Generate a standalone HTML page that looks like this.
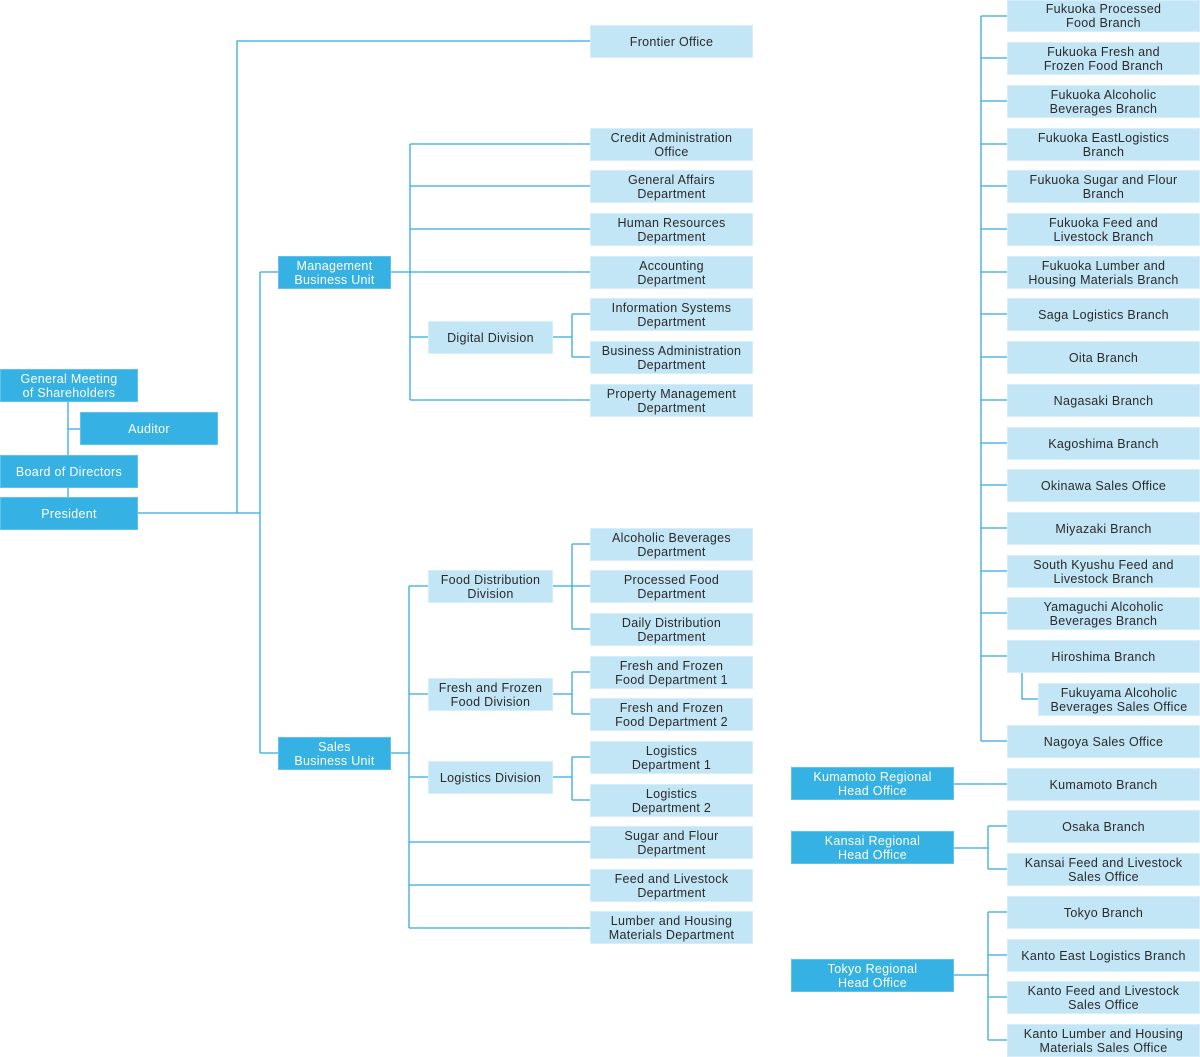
<!DOCTYPE html>
<html><head><meta charset="utf-8"><style>
body{margin:0;width:1200px;height:1056px;position:relative;background:#fff;font-family:"Liberation Sans",sans-serif;overflow:hidden}
.b{position:absolute;display:flex;align-items:center;justify-content:center;text-align:center;font-size:12.5px;line-height:14px;box-sizing:border-box;letter-spacing:0.3px}
.d{background:#35b1e3;color:#fff;border:1px solid #5fc2ea}
.l{background:#c3e6f6;color:#2a2a2a;border:1px solid #d6eefa}
svg{position:absolute;left:0;top:0}
</style></head><body>
<svg width="1200" height="1056" stroke="#35a9e0" stroke-width="1.3" fill="none">
<path d="M68 402V497M68 429H80M138 513H260M237 513V41H590M260 272V753M260 272H278M260 753H278"/>
<path d="M391 272H590M410 144V400M410 144H590M410 186H590M410 229H590M410 400H590M410 337H428M553 337H572M572 314V357M572 314H590M572 357H590"/>
<path d="M391 753H409M409 586V928M409 586H428M409 694H428M409 777H428M409 842H590M409 885H590M409 928H590"/>
<path d="M553 586H572M572 544V629M572 544H590M572 586H590M572 629H590"/>
<path d="M553 694H572M572 672V714M572 672H590M572 714H590"/>
<path d="M553 777H572M572 757V800M572 757H590M572 800H590"/>
<path d="M981 16V741M981 16H1007M981 58H1007M981 101H1007M981 144H1007M981 186H1007M981 229H1007M981 272H1007M981 314H1007M981 357H1007M981 400H1007M981 443H1007M981 485H1007M981 528H1007M981 571H1007M981 613H1007M981 656H1007M981 741H1007M1022 673V699H1038"/>
<path d="M954 784H1007M954 848H988M988 826V869M988 826H1007M988 869H1007M954 975H988M988 912V1040M988 912H1007M988 955H1007M988 997H1007M988 1040H1007"/>
</svg>
<div class="b d" style="left:0;top:369px;width:138px;height:33px">General Meeting<br>of Shareholders</div>
<div class="b d" style="left:80px;top:412px;width:138px;height:33px">Auditor</div>
<div class="b d" style="left:0;top:455px;width:138px;height:33px">Board of Directors</div>
<div class="b d" style="left:0;top:497px;width:138px;height:33px">President</div>
<div class="b d" style="left:278px;top:256px;width:113px;height:33px">Management<br>Business Unit</div>
<div class="b d" style="left:278px;top:737px;width:113px;height:33px">Sales<br>Business Unit</div>
<div class="b d" style="left:791px;top:767px;width:163px;height:33px">Kumamoto Regional<br>Head Office</div>
<div class="b d" style="left:791px;top:831px;width:163px;height:33px">Kansai Regional<br>Head Office</div>
<div class="b d" style="left:791px;top:959px;width:163px;height:33px">Tokyo Regional<br>Head Office</div>

<div class="b l" style="left:428px;top:321px;width:125px;height:33px">Digital Division</div>
<div class="b l" style="left:428px;top:570px;width:125px;height:33px">Food Distribution<br>Division</div>
<div class="b l" style="left:428px;top:678px;width:125px;height:33px">Fresh and Frozen<br>Food Division</div>
<div class="b l" style="left:428px;top:761px;width:125px;height:33px">Logistics Division</div>

<div class="b l" style="left:590px;top:25px;width:163px;height:33px">Frontier Office</div>
<div class="b l" style="left:590px;top:128px;width:163px;height:33px">Credit Administration<br>Office</div>
<div class="b l" style="left:590px;top:170px;width:163px;height:33px">General Affairs<br>Department</div>
<div class="b l" style="left:590px;top:213px;width:163px;height:33px">Human Resources<br>Department</div>
<div class="b l" style="left:590px;top:256px;width:163px;height:33px">Accounting<br>Department</div>
<div class="b l" style="left:590px;top:298px;width:163px;height:33px">Information Systems<br>Department</div>
<div class="b l" style="left:590px;top:341px;width:163px;height:33px">Business Administration<br>Department</div>
<div class="b l" style="left:590px;top:384px;width:163px;height:33px">Property Management<br>Department</div>
<div class="b l" style="left:590px;top:528px;width:163px;height:33px">Alcoholic Beverages<br>Department</div>
<div class="b l" style="left:590px;top:570px;width:163px;height:33px">Processed Food<br>Department</div>
<div class="b l" style="left:590px;top:613px;width:163px;height:33px">Daily Distribution<br>Department</div>
<div class="b l" style="left:590px;top:656px;width:163px;height:33px">Fresh and Frozen<br>Food Department 1</div>
<div class="b l" style="left:590px;top:698px;width:163px;height:33px">Fresh and Frozen<br>Food Department 2</div>
<div class="b l" style="left:590px;top:741px;width:163px;height:33px">Logistics<br>Department 1</div>
<div class="b l" style="left:590px;top:784px;width:163px;height:33px">Logistics<br>Department 2</div>
<div class="b l" style="left:590px;top:826px;width:163px;height:33px">Sugar and Flour<br>Department</div>
<div class="b l" style="left:590px;top:869px;width:163px;height:33px">Feed and Livestock<br>Department</div>
<div class="b l" style="left:590px;top:911px;width:163px;height:33px">Lumber and Housing<br>Materials Department</div>

<div class="b l" style="left:1007px;top:0;width:193px;height:32px">Fukuoka Processed<br>Food Branch</div>
<div class="b l" style="left:1007px;top:42px;width:193px;height:33px">Fukuoka Fresh and<br>Frozen Food Branch</div>
<div class="b l" style="left:1007px;top:85px;width:193px;height:33px">Fukuoka Alcoholic<br>Beverages Branch</div>
<div class="b l" style="left:1007px;top:128px;width:193px;height:33px">Fukuoka EastLogistics<br>Branch</div>
<div class="b l" style="left:1007px;top:170px;width:193px;height:33px">Fukuoka Sugar and Flour<br>Branch</div>
<div class="b l" style="left:1007px;top:213px;width:193px;height:33px">Fukuoka Feed and<br>Livestock Branch</div>
<div class="b l" style="left:1007px;top:256px;width:193px;height:33px">Fukuoka Lumber and<br>Housing Materials Branch</div>
<div class="b l" style="left:1007px;top:298px;width:193px;height:33px">Saga Logistics Branch</div>
<div class="b l" style="left:1007px;top:341px;width:193px;height:33px">Oita Branch</div>
<div class="b l" style="left:1007px;top:384px;width:193px;height:33px">Nagasaki Branch</div>
<div class="b l" style="left:1007px;top:427px;width:193px;height:33px">Kagoshima Branch</div>
<div class="b l" style="left:1007px;top:469px;width:193px;height:33px">Okinawa Sales Office</div>
<div class="b l" style="left:1007px;top:512px;width:193px;height:33px">Miyazaki Branch</div>
<div class="b l" style="left:1007px;top:555px;width:193px;height:33px">South Kyushu Feed and<br>Livestock Branch</div>
<div class="b l" style="left:1007px;top:597px;width:193px;height:33px">Yamaguchi Alcoholic<br>Beverages Branch</div>
<div class="b l" style="left:1007px;top:640px;width:193px;height:33px">Hiroshima Branch</div>
<div class="b l" style="left:1038px;top:683px;width:162px;height:33px">Fukuyama Alcoholic<br>Beverages Sales Office</div>
<div class="b l" style="left:1007px;top:725px;width:193px;height:33px">Nagoya Sales Office</div>
<div class="b l" style="left:1007px;top:768px;width:193px;height:33px">Kumamoto Branch</div>
<div class="b l" style="left:1007px;top:810px;width:193px;height:33px">Osaka Branch</div>
<div class="b l" style="left:1007px;top:853px;width:193px;height:33px">Kansai Feed and Livestock<br>Sales Office</div>
<div class="b l" style="left:1007px;top:896px;width:193px;height:33px">Tokyo Branch</div>
<div class="b l" style="left:1007px;top:939px;width:193px;height:33px">Kanto East Logistics Branch</div>
<div class="b l" style="left:1007px;top:981px;width:193px;height:33px">Kanto Feed and Livestock<br>Sales Office</div>
<div class="b l" style="left:1007px;top:1024px;width:193px;height:33px">Kanto Lumber and Housing<br>Materials Sales Office</div>
</body></html>
